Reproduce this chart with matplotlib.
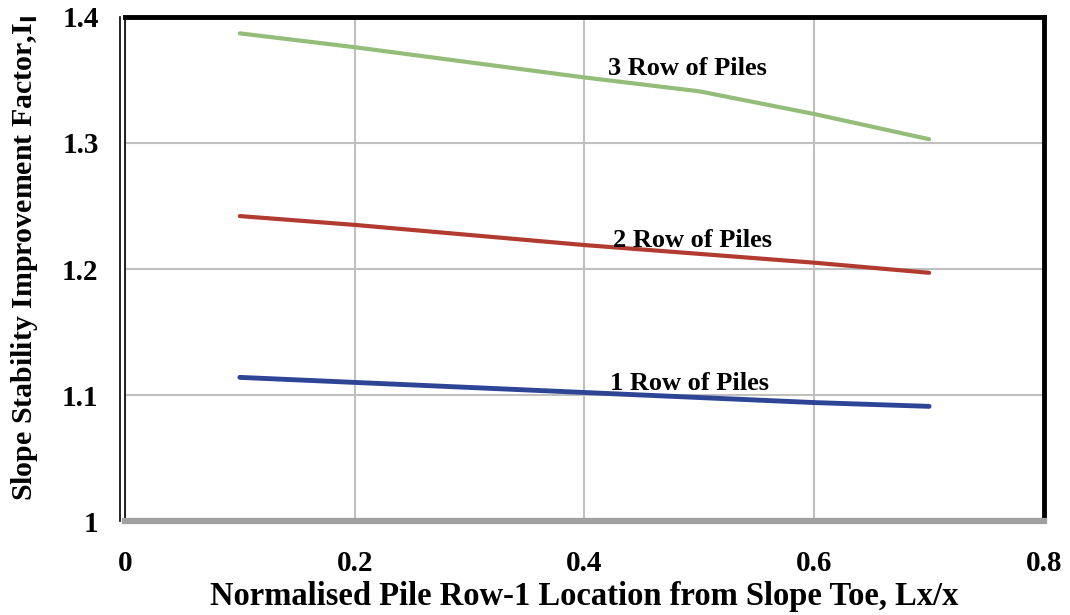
import matplotlib.pyplot as plt
from matplotlib.lines import Line2D

# values
x = [0.1, 0.2, 0.3, 0.4, 0.5, 0.6, 0.7]
row3 = [1.387, 1.376, 1.364, 1.352, 1.341, 1.323, 1.303]
row2 = [1.242, 1.235, 1.227, 1.219, 1.212, 1.205, 1.197]
row1 = [1.114, 1.110, 1.106, 1.102, 1.098, 1.094, 1.091]

xticks = [0, 0.2, 0.4, 0.6, 0.8]
xticklabels = ["0", "0.2", "0.4", "0.6", "0.8"]
yticks = [1.0, 1.1, 1.2, 1.3, 1.4]
yticklabels = ["1", "1.1", "1.2", "1.3", "1.4"]

plt.rcParams['font.family'] = ['Liberation Serif', 'DejaVu Serif']
plt.rcParams['font.weight'] = 'bold'

fig = plt.figure(figsize=(10.7, 6.15), dpi=100)
ax = fig.add_axes([0.1168, 0.1528, 0.8589, 0.8196])

ax.plot(x, row3, color="#93bd78", lw=3, solid_capstyle="round")
ax.plot(x, row2, color="#b23b30", lw=3, solid_capstyle="round")
ax.plot(x, row1, color="#2e4596", lw=3.5, solid_capstyle="round")

ax.text(0.49, 1.3595, "3 Row of Piles", fontsize=19, fontweight="bold", ha="center", va="center")
ax.text(0.494, 1.223, "2 Row of Piles", fontsize=19, fontweight="bold", ha="center", va="center")
ax.text(0.491, 1.1095, "1 Row of Piles", fontsize=19, fontweight="bold", ha="center", va="center")

ax.set_xlim(0, 0.8)
ax.set_ylim(1.0, 1.4)
ax.set_xticks(xticks)
ax.set_xticklabels(xticklabels)
ax.set_yticks(yticks)
ax.set_yticklabels(yticklabels)
ax.tick_params(length=0, labelsize=21)
ax.tick_params(axis="x", pad=21)
ax.tick_params(axis="y", pad=19)

ax.grid(True, color="#c0c0c0", lw=1.5)
ax.set_axisbelow(True)

for s in ["top", "right"]:
    ax.spines[s].set_linewidth(3.5)
    ax.spines[s].set_color("black")
ax.spines["bottom"].set_linewidth(4.5)
ax.spines["bottom"].set_color("#a0a0a0")
ax.spines["left"].set_linewidth(1.2)
ax.spines["left"].set_color("black")
# double line on the left side
ax.add_line(Line2D([-0.005, -0.005], [0, 1.0], transform=ax.transAxes, color="black",
                   lw=1.2, clip_on=False))

ax.set_xlabel("Normalised Pile Row-1 Location from Slope Toe, Lx/x", fontsize=23.5,
              fontweight="bold", labelpad=3)
ax.set_ylabel(r"Slope Stability Improvement Factor,I$_\mathbf{I}$", fontsize=21.5,
              fontweight="bold", va="center")
ax.yaxis.set_label_coords(-0.109, 0.522)

fig.savefig("out.png", dpi=100)
